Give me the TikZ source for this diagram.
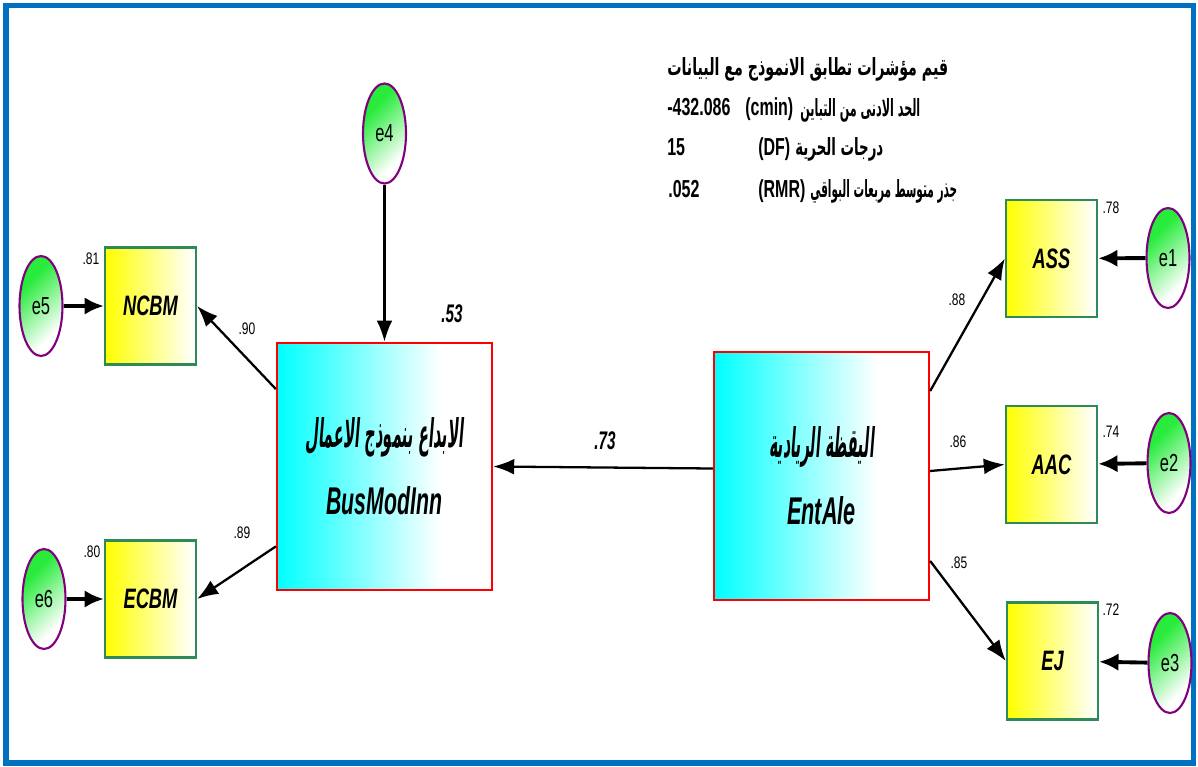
\documentclass[tikz,border=0pt]{standalone}
\usepackage{graphicx}
\usepackage{fontspec}
\setmainfont{Liberation Sans}
\newfontfamily\arabicbf[Script=Arabic]{DejaVu Sans Bold}
\newfontfamily\arabicsl[Script=Arabic,FakeSlant=0.22]{DejaVu Sans Bold}
\TeXXeTstate=1
\usetikzlibrary{arrows.meta,calc,shapes.geometric}
\definecolor{errgreen}{RGB}{40,235,60}
\definecolor{boxgreen}{RGB}{46,139,87}
\definecolor{errpurple}{RGB}{128,0,128}
\definecolor{frameblue}{RGB}{0,112,192}
\pgfdeclarehorizontalshading{latentfill}{100bp}{color(0bp)=(cyan); color(25bp)=(cyan); color(63bp)=(white); color(100bp)=(white)}
\pgfdeclarehorizontalshading{indfill}{100bp}{color(0bp)=(yellow); color(25bp)=(yellow); color(74bp)=(white); color(100bp)=(white)}
\pgfdeclarehorizontalshading{errfill}{100bp}{color(0bp)=(errgreen); color(32bp)=(errgreen); color(70bp)=(white); color(100bp)=(white)}
\newcommand\sqz[2][0.65]{\scalebox{#1}[1]{#2}}
\newcommand\arabictext[3]{\resizebox{#1}{#2}{\arabicbf\mdseries\upshape #3}}
\newcommand\arabicslant[3]{\resizebox{#1}{#2}{\arabicsl\mdseries\upshape #3}}
\tikzset{%
  indicator/.style = {shape=rectangle, draw=boxgreen, line width=1.3pt,%
                      shading=indfill, minimum width=1.82cm, minimum height=2.34cm,%
                      font=\bfseries\itshape\fontsize{16}{18}\selectfont},%
  latent/.style    = {shape=rectangle, draw=red, line width=1.3pt, align=center,%
                      shading=latentfill, minimum width=4.3cm, minimum height=4.95cm,%
                      font=\bfseries\itshape\fontsize{22}{26}\selectfont},%
  errnode/.style   = {shape=ellipse, draw=errpurple, line width=1.2pt, inner sep=0pt,%
                      shading=errfill, shading angle=-45,%
                      minimum width=0.86cm, minimum height=2cm,%
                      font=\fontsize{14}{16}\selectfont},%
  weight/.style    = {font=\fontsize{9.5}{11}\selectfont, inner sep=0pt},%
  bigweight/.style = {font=\bfseries\itshape\fontsize{14.5}{16}\selectfont, inner sep=0pt},%
  fitline/.style   = {font=\bfseries\fontsize{14}{16}\selectfont, inner sep=0pt, anchor=base west},%
  path/.style      = {draw, line width=1.3pt, -{Latex[length=12pt,width=9pt]}},%
  errpath/.style   = {draw, line width=2.2pt, -{Latex[length=11pt,width=10pt]}}%
}
\begin{document}
\begin{tikzpicture}[x=0.02cm, y=-0.02cm]
  \useasboundingbox (0,0) rectangle (1198,767);
  \draw[frameblue, line width=3.2pt] (6,5.5) rectangle (1193.5,763);

  \node[latent] (BMI) at (384.5,466.5)
    {\arabicslant{3.16cm}{0.6cm}{\beginR الابداع بنموذج الاعمال\endR}\\[12pt]\sqz[0.55]{BusModInn}};
  \node[latent] (EA) at (821.5,476)
    {\arabicslant{2.1cm}{0.62cm}{\beginR اليقظة الريادية\endR}\\[12pt]\sqz[0.56]{EntAle}};

  \node[indicator] (NCBM) at (150.5,306) {\sqz{NCBM}};
  \node[indicator] (ECBM) at (150.5,599) {\sqz{ECBM}};
  \node[indicator] (ASS) at (1051.5,258.5) {\sqz{ASS}};
  \node[indicator] (AAC) at (1051.5,464.5) {\sqz{AAC}};
  \node[indicator] (EJ) at (1052.5,661) {\sqz{EJ}};

  \node[errnode] (e5) at (41,306) {\sqz[0.67]{e5}};
  \node[errnode] (e6) at (44,599) {\sqz[0.67]{e6}};
  \node[errnode] (e4) at (384.5,133.5) {\sqz[0.67]{e4}};
  \node[errnode] (e1) at (1168,258) {\sqz[0.67]{e1}};
  \node[errnode] (e2) at (1169,463) {\sqz[0.67]{e2}};
  \node[errnode] (e3) at (1170,663) {\sqz[0.67]{e3}};

  \path[errpath] (e5) -- (NCBM);
  \path[errpath] (e6) -- (ECBM);
  \path[errpath] (e1) -- (ASS);
  \path[errpath] (e2) -- (AAC);
  \path[errpath] (e3) -- (EJ);
  \path[path] (e4) -- (BMI);
  \path[path] ($(EA.north west)!0.47!(EA.south west)$) -- (BMI.east);
  \path[path] ($(BMI.north west)!0.19!(BMI.south west)$) -- (NCBM.east);
  \path[path] ($(BMI.north west)!0.82!(BMI.south west)$) -- (ECBM.east);
  \path[path] ($(EA.north east)!0.16!(EA.south east)$) -- (ASS.west);
  \path[path] ($(EA.north east)!0.48!(EA.south east)$) -- (AAC.west);
  \path[path] ($(EA.north east)!0.84!(EA.south east)$) -- (EJ.west);

  \node[weight] (r81) at (91,259) {\sqz[0.72]{.81}};
  \node[weight] (r80) at (92,552) {\sqz[0.72]{.80}};
  \node[weight] (r90) at (247,329) {\sqz[0.72]{.90}};
  \node[weight] (r89) at (242,533) {\sqz[0.72]{.89}};
  \node[weight] (r78) at (1111,208) {\sqz[0.72]{.78}};
  \node[weight] (r88) at (957,300) {\sqz[0.72]{.88}};
  \node[weight] (r74) at (1111,432) {\sqz[0.72]{.74}};
  \node[weight] (r86) at (958,442) {\sqz[0.72]{.86}};
  \node[weight] (r85) at (959,563) {\sqz[0.72]{.85}};
  \node[weight] (r72) at (1111,610) {\sqz[0.72]{.72}};
  \node[bigweight] (r53) at (452,314) {\sqz[0.6]{.53}};
  \node[bigweight] (r73) at (605,441) {\sqz[0.6]{.73}};

  \node[fitline] (fittitle) at (667,75) {\arabictext{5.62cm}{0.36cm}{\beginR قيم مؤشرات تطابق الانموذج مع البيانات\endR}};
  \node[fitline] (cminval) at (667,116) {\sqz{-432.086}};
  \node[fitline] (cminlbl) at (745,116) {\sqz{(cmin)}};
  \node[fitline] (cminar) at (800,116) {\arabictext{2.4cm}{0.36cm}{\beginR الحد الادنى من التباين\endR}};
  \node[fitline] (dfval) at (667,155) {\sqz{15}};
  \node[fitline] (dflbl) at (758,155) {\sqz{(DF)}};
  \node[fitline] (dfar) at (795,155) {\arabictext{1.76cm}{0.36cm}{\beginR درجات الحرية\endR}};
  \node[fitline] (rmrval) at (668,197) {\sqz{.052}};
  \node[fitline] (rmrlbl) at (758,197) {\sqz{(RMR)}};
  \node[fitline] (rmrar) at (810,197) {\arabictext{2.94cm}{0.36cm}{\beginR جذر متوسط مربعات البواقي\endR}};
\end{tikzpicture}
\end{document}
